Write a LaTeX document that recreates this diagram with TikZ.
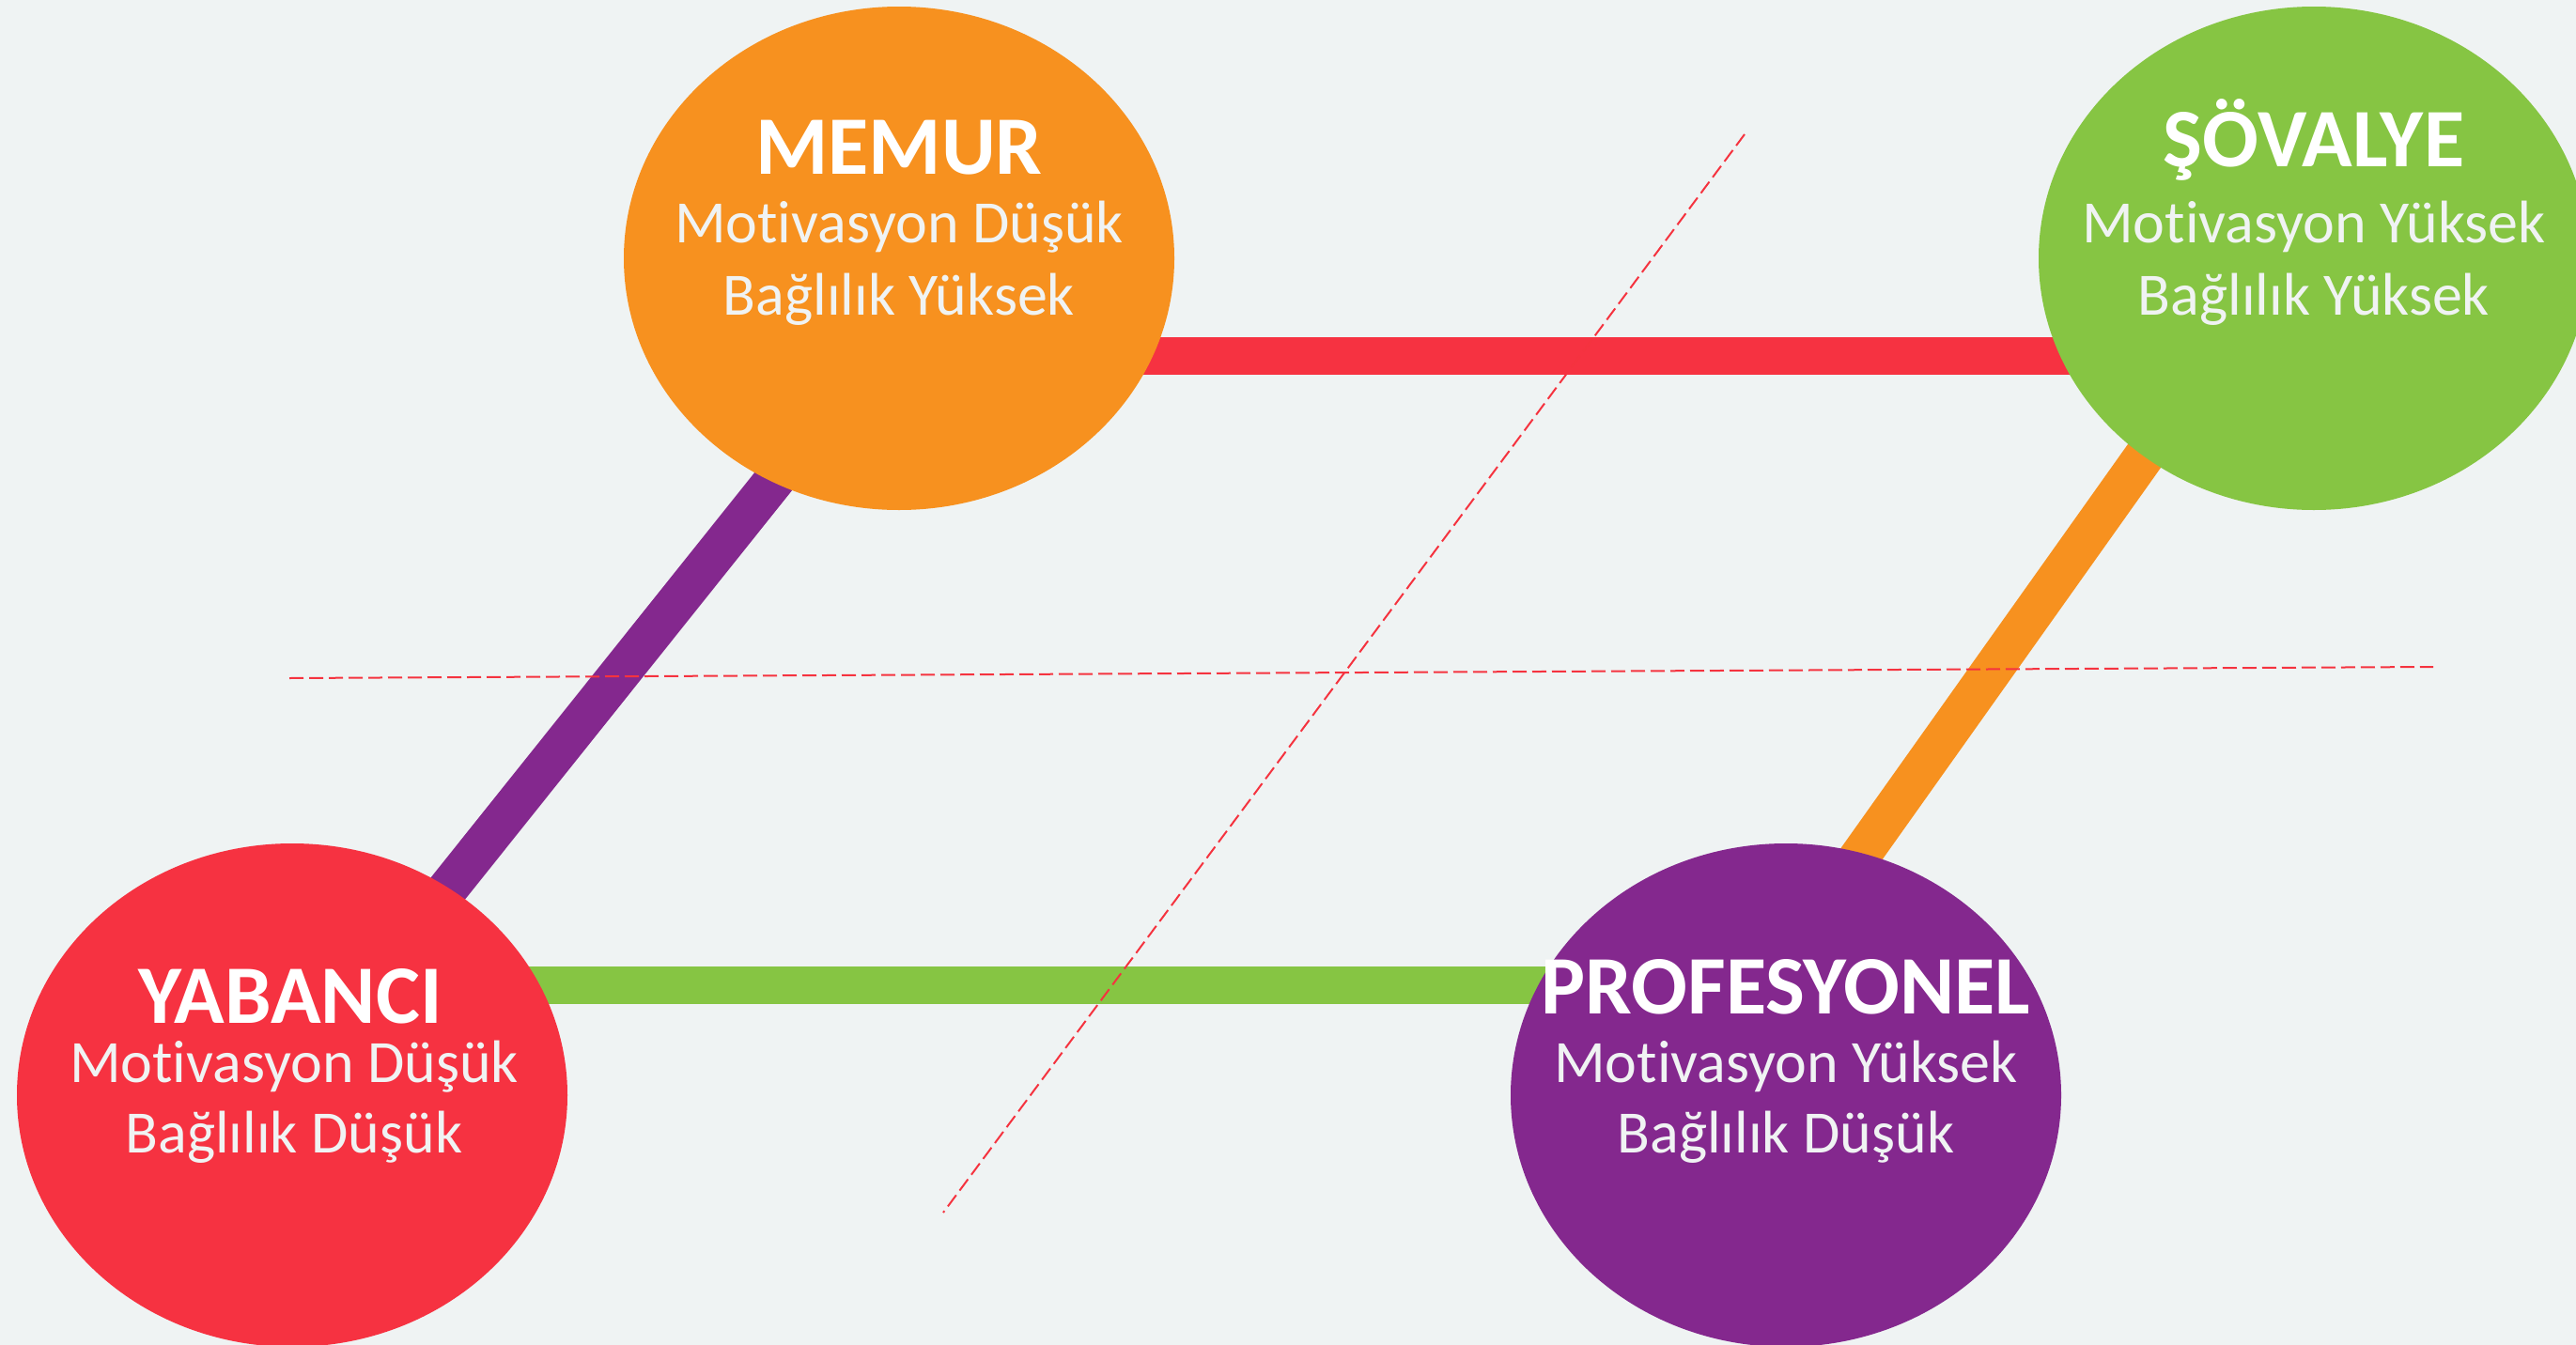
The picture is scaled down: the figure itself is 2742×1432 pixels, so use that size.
\documentclass[tikz,border=0pt]{standalone}
\usepackage{fontspec}
\setmainfont{Carlito}[Ligatures=NoCommon]
\usetikzlibrary{shapes.geometric}
\definecolor{bgc}{HTML}{EFF3F3}
\definecolor{corange}{HTML}{F7911F}
\definecolor{cgreen}{HTML}{86C543}
\definecolor{cred}{HTML}{F63241}
\definecolor{cpurple}{HTML}{84288E}
\definecolor{ctext}{HTML}{F0F3F3}
\definecolor{cdash}{HTML}{F5333F}
\tikzset{
  blob/.style={ellipse, draw=none, minimum width=586pt, minimum height=536pt, inner sep=0pt},
  hbar/.style={line width=40pt},
  dbar/.style={line width=43pt},
  ttl/.style={anchor=base, text=white, font=\fontsize{88.5}{90}\selectfont\bfseries, inner sep=0pt},
  body/.style={anchor=base, text=ctext, font=\fontsize{64}{66}\selectfont, inner sep=0pt},
  guide/.style={draw=cdash, line width=2pt, dash pattern=on 15pt off 6pt}
}
\begin{document}
\begin{tikzpicture}[x=1pt,y=-1pt]
\fill[bgc] (0,0) rectangle (2742,1432);
\useasboundingbox (0,0) rectangle (2742,1432);
% centre points of the four circles
\coordinate (memurC) at (957,275);
\coordinate (sovalyeC) at (2463,275);
\coordinate (yabanciC) at (311,1166);
\coordinate (profC) at (1901,1166);
% connectors
\draw[hbar, cred] ([yshift=-104pt]memurC) -- ([yshift=-104pt]sovalyeC);
\draw[hbar, cgreen] ([yshift=117.5pt]yabanciC) -- ([yshift=117.5pt]profC);
\draw[dbar, cpurple] ([xshift=56pt]memurC) -- ([xshift=-10pt]yabanciC);
\draw[dbar, corange] ([xshift=-31pt]sovalyeC) -- ([xshift=-102pt]profC);
% ellipses
\node[blob, fill=corange] (memur) at (memurC) {};
\node[blob, fill=cgreen] (sovalye) at (sovalyeC) {};
\node[blob, fill=cred] (yabanci) at (yabanciC) {};
\node[blob, fill=cpurple] (prof) at (profC) {};
% texts
\node[ttl] (memurT) at (957,185) {MEMUR};
\node[body] (memurA) at (957,258) {Motivasyon Düşük};
\node[body] (memurB) at (957,335) {Bağlılık Yüksek};
\node[ttl] (sovalyeT) at (2463,177) {ŞÖVALYE};
\node[body] (sovalyeA) at (2463,258) {Motivasyon Yüksek};
\node[body] (sovalyeB) at (2463,335) {Bağlılık Yüksek};
\node[ttl] (yabanciT) at (309,1089) {YABANCI};
\node[body] (yabanciA) at (313,1152) {Motivasyon Düşük};
\node[body] (yabanciB) at (313,1227) {Bağlılık Düşük};
\node[ttl] (profT) at (1901,1079) {PROFESYONEL};
\node[body] (profA) at (1901,1152) {Motivasyon Yüksek};
\node[body] (profB) at (1901,1227) {Bağlılık Düşük};
% dashed guide lines
\coordinate (h1) at (308,722);
\coordinate (h2) at (2590,710);
\coordinate (d1) at (1857,143);
\coordinate (d2) at (1004,1291);
\draw[guide] (h1) -- (h2);
\draw[guide] (d1) -- (d2);
\end{tikzpicture}
\end{document}
